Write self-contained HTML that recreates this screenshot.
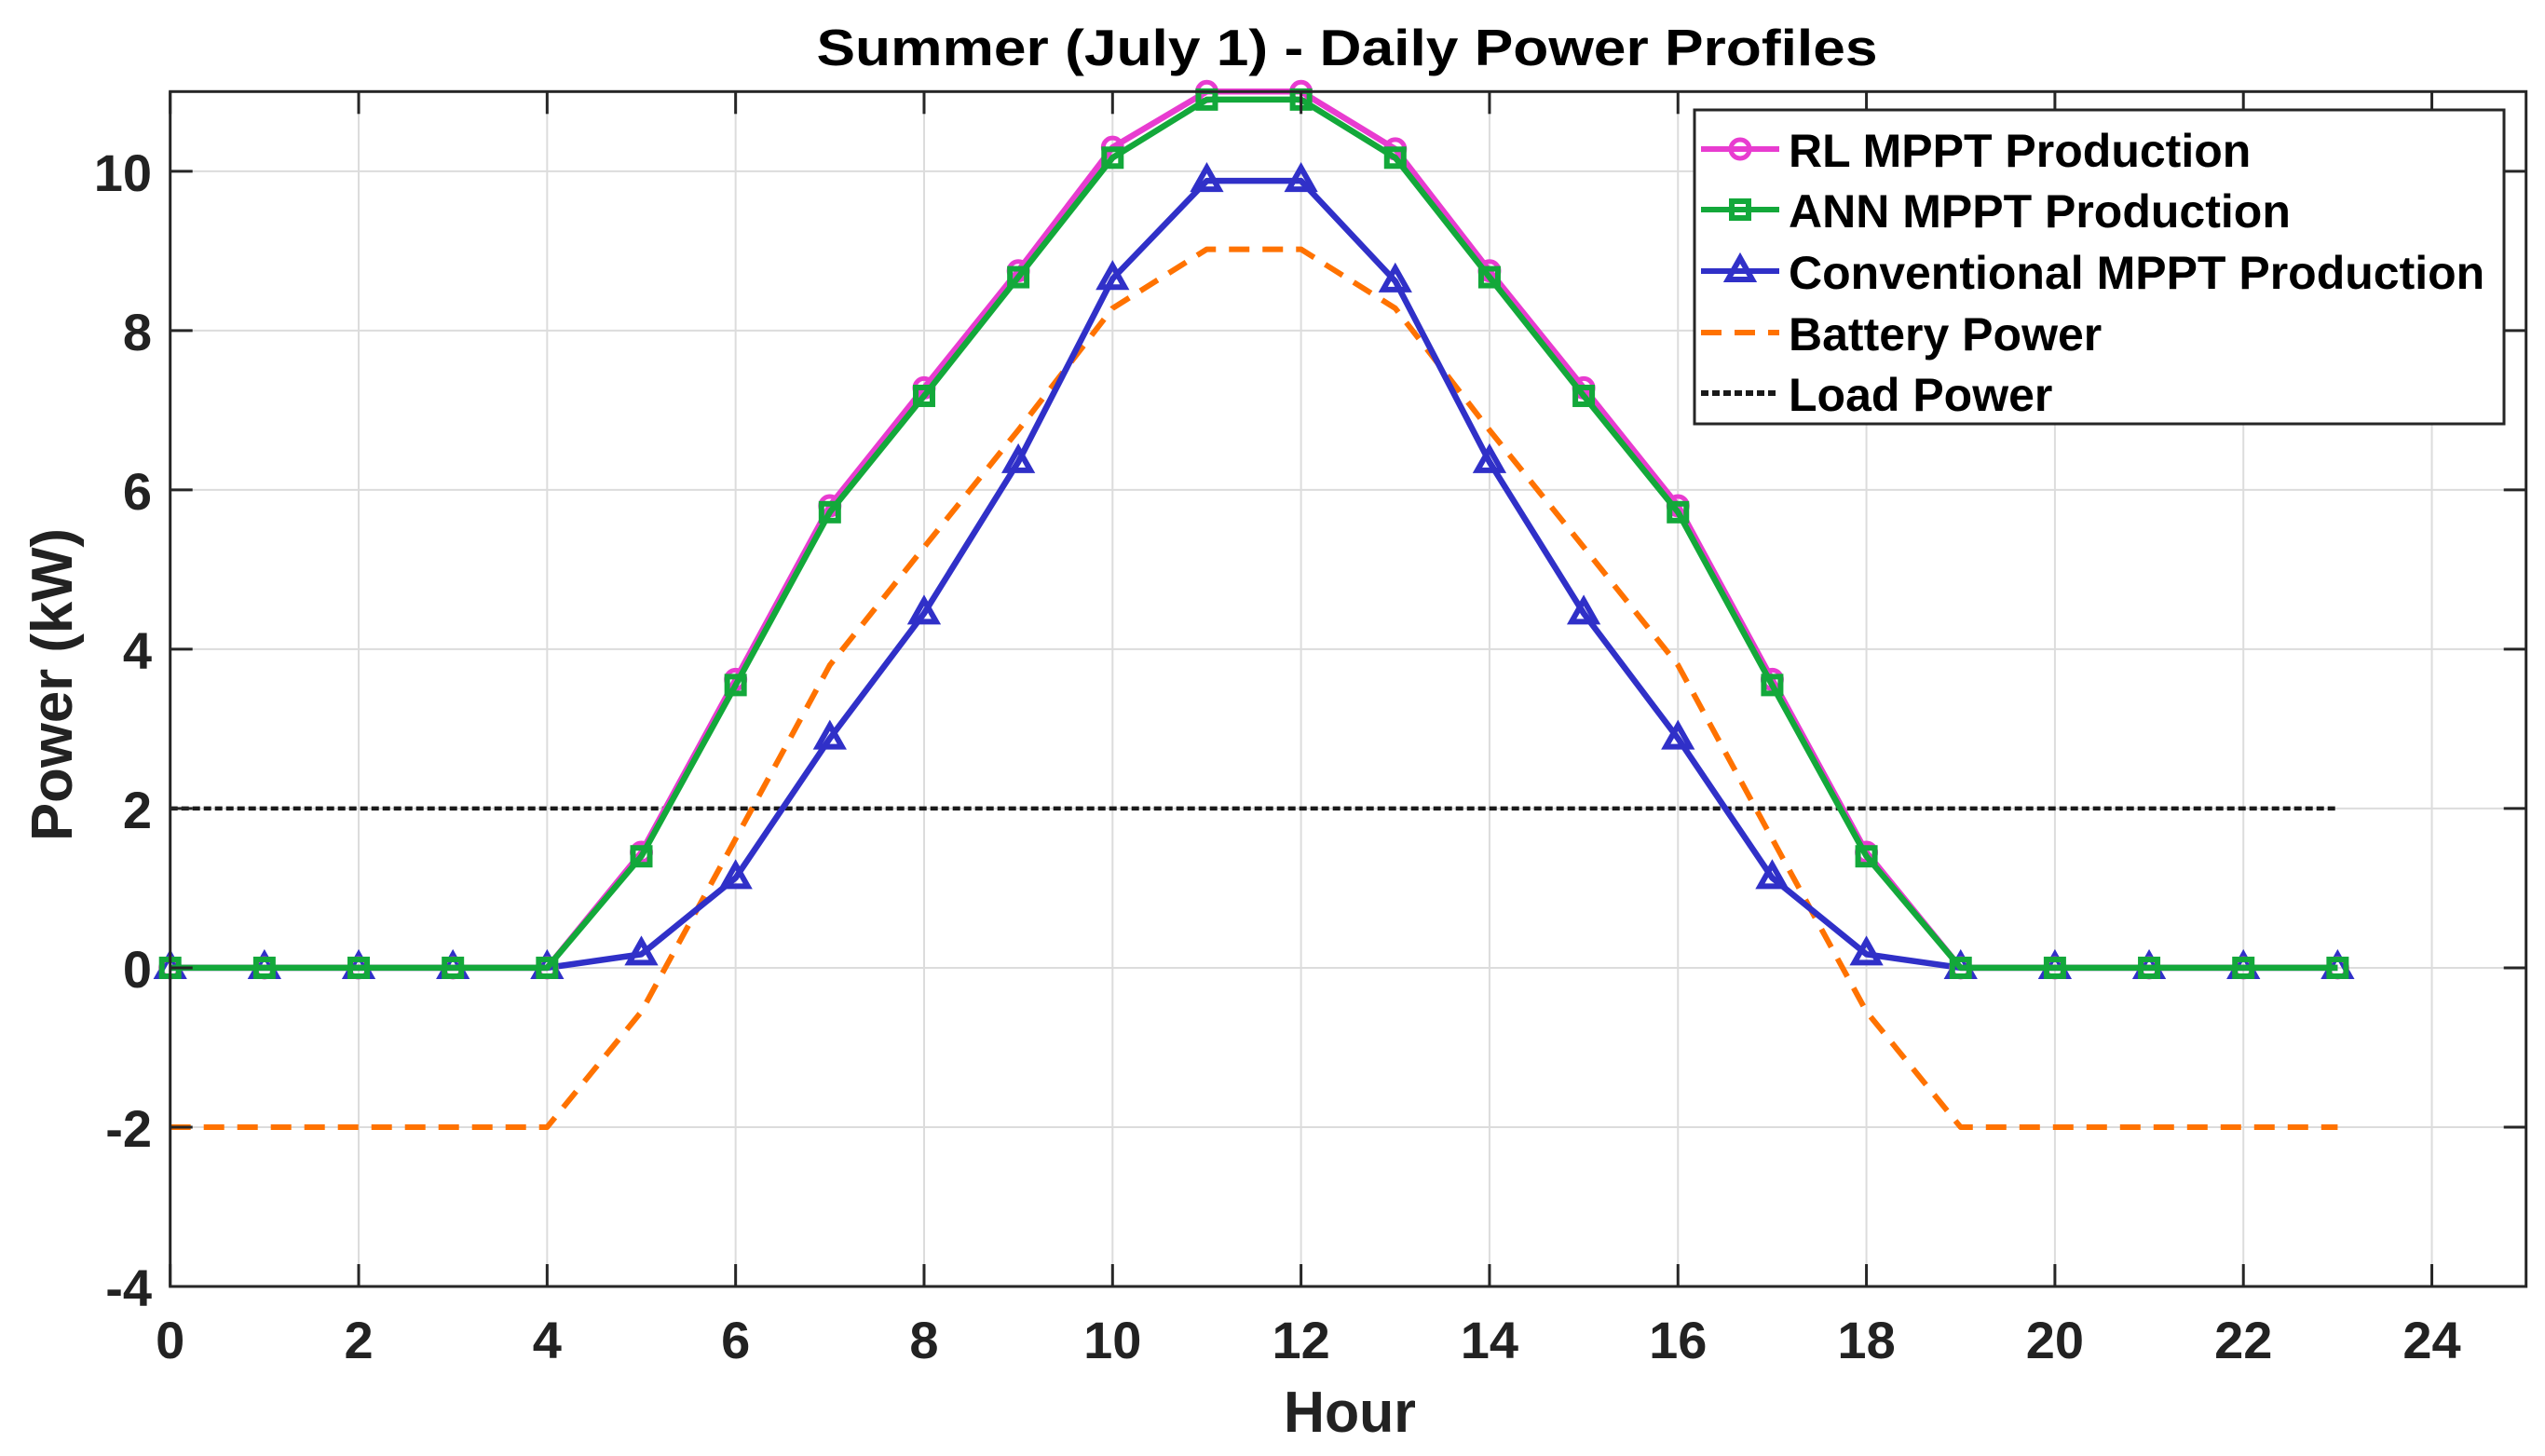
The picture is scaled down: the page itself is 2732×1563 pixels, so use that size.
<!DOCTYPE html>
<html><head><meta charset="utf-8"><style>html,body{margin:0;padding:0;background:#fff;}svg{display:block;}</style></head>
<body>
<svg id="chart" width="2732" height="1563" viewBox="0 0 2732 1563" xmlns="http://www.w3.org/2000/svg" font-family="Liberation Sans, Arial, sans-serif" font-weight="bold">
<rect x="0" y="0" width="2732" height="1563" fill="#fff"/>
<g id="grid"></g>
<g id="series"></g>
<rect x="182.7" y="98.3" width="2529" height="1282.7" fill="none" stroke="#262626" stroke-width="3"/>
<g id="ticks"></g>
<text x="1446" y="70" font-size="55" text-anchor="middle" textLength="1139" lengthAdjust="spacingAndGlyphs" fill="#000">Summer (July 1) - Daily Power Profiles</text>
<text x="1449" y="1537" font-size="62" text-anchor="middle" textLength="142" lengthAdjust="spacingAndGlyphs" fill="#222">Hour</text>
<text transform="translate(77,735) rotate(-90)" font-size="62" text-anchor="middle" textLength="336" lengthAdjust="spacingAndGlyphs" fill="#222">Power (kW)</text>
<g id="legend"></g>
</svg>
<script>
const hours = [0,1,2,3,4,5,6,7,8,9,10,11,12,13,14,15,16,17,18,19,20,21,22,23];
const rlValues = [0,0,0,0,0,1.45,3.62,5.8,7.28,8.75,10.3,11.0,11.0,10.28,8.75,7.28,5.8,3.62,1.45,0,0,0,0,0];
const annValues = [0,0,0,0,0,1.4,3.55,5.72,7.18,8.67,10.17,10.9,10.9,10.17,8.67,7.18,5.72,3.55,1.4,0,0,0,0,0];
const convValues = [0,0,0,0,0,0.17,1.13,2.88,4.45,6.35,8.65,9.88,9.88,8.62,6.35,4.45,2.88,1.13,0.17,0,0,0,0,0];
const batteryValues = [-2,-2,-2,-2,-2,-0.55,1.62,3.8,5.28,6.75,8.28,9.02,9.02,8.28,6.75,5.28,3.8,1.62,-0.55,-2,-2,-2,-2,-2];
const loadValues = [2,2,2,2,2,2,2,2,2,2,2,2,2,2,2,2,2,2,2,2,2,2,2,2];
const xTicks = [0,2,4,6,8,10,12,14,16,18,20,22,24];
const yTicks = [-4,-2,0,2,4,6,8,10];
const legendLabels = ["RL MPPT Production","ANN MPPT Production","Conventional MPPT Production","Battery Power","Load Power"];

const NS = "http://www.w3.org/2000/svg";
const L = 182.7, R = 2711.7, T = 98.3, B = 1381;
const xMin = 0, xMax = 25, yMin = -4, yMax = 11;
function xs(v){ return L + (v - xMin) / (xMax - xMin) * (R - L); }
function ys(v){ return B - (v - yMin) / (yMax - yMin) * (B - T); }
function mk(tag, attrs, parent){ const e = document.createElementNS(NS, tag); for (const k in attrs) e.setAttribute(k, attrs[k]); parent.appendChild(e); return e; }

const grid = document.getElementById('grid');
const ticks = document.getElementById('ticks');
xTicks.forEach(t => {
  const x = xs(t);
  const g = mk('line', {x1:x, x2:x, y1:T, y2:B, stroke:'#dcdcdc', 'stroke-width':2}, grid);
  
  
  const a = mk('line', {x1:x, x2:x, y1:B, y2:B-24, stroke:'#262626', 'stroke-width':3}, ticks);
  
  
  const b = mk('line', {x1:x, x2:x, y1:T, y2:T+24, stroke:'#262626', 'stroke-width':3}, ticks);
  
  
  const tx = mk('text', {x:x, y:1458, 'font-size':56, 'text-anchor':'middle', fill:'#222'}, ticks);
  tx.textContent = String(t);
  
  
});
yTicks.forEach(t => {
  const y = ys(t);
  const g = mk('line', {x1:L, x2:R, y1:y, y2:y, stroke:'#dcdcdc', 'stroke-width':2}, grid);
  
  
  const a = mk('line', {x1:L, x2:L+24, y1:y, y2:y, stroke:'#262626', 'stroke-width':3}, ticks);
  
  
  const b = mk('line', {x1:R, x2:R-24, y1:y, y2:y, stroke:'#262626', 'stroke-width':3}, ticks);
  
  
  const tx = mk('text', {x:163, y:y+21, 'font-size':56, 'text-anchor':'end', fill:'#222'}, ticks);
  tx.textContent = String(t);
  
  
});

const series = document.getElementById('series');
function pts(vals){ return vals.map((v,i) => xs(hours[i]).toFixed(1) + ',' + ys(v).toFixed(1)).join(' '); }
function marker(kind, cx, cy, color, parent){
  let m;
  if (kind === 'circle') m = mk('circle', {cx:cx, cy:cy, r:10, fill:'none', stroke:color, 'stroke-width':5}, parent);
  else if (kind === 'square') m = mk('rect', {x:cx-9, y:cy-9, width:18, height:18, fill:'none', stroke:color, 'stroke-width':6}, parent);
  else m = mk('polygon', {points:`${cx},${cy-14} ${cx-13},${cy+9} ${cx+13},${cy+9}`, fill:'none', stroke:color, 'stroke-width':6, 'stroke-linejoin':'miter'}, parent);
  return m;
}
const defs = [
  {vals:loadValues, color:'#1a1a1a', dash:'8 4', width:4.5, marker:null, name:'load-power-line'},
  {vals:batteryValues, color:'#ff7200', dash:'22 14', width:6, marker:null, name:'battery-power-line'},
  {vals:convValues, color:'#3030c8', dash:null, width:6.5, marker:'triangle', name:'conventional-mppt-line'},
  {vals:rlValues, color:'#e83cd0', dash:null, width:6.5, marker:'circle', name:'rl-mppt-line'},
  {vals:annValues, color:'#13a83a', dash:null, width:6.5, marker:'square', name:'ann-mppt-line'}
];
defs.forEach(d => {
  const g = mk('g', {}, series);
  
  
  const attrs = {points:pts(d.vals), fill:'none', stroke:d.color, 'stroke-width':d.width, 'stroke-linejoin':'round'};
  if (d.dash) attrs['stroke-dasharray'] = d.dash;
  const p = mk('polyline', attrs, g);
  
  
  if (d.marker) d.vals.forEach((v,i) => {
    const m = marker(d.marker, xs(hours[i]), ys(v), d.color, g);
    
    
  });
});

const legend = document.getElementById('legend');
const lb = mk('rect', {x:1819, y:118, width:869, height:337, fill:'#fff', stroke:'#262626', 'stroke-width':3}, legend);


const legendStyles = [
  {color:'#e83cd0', dash:null, marker:'circle'},
  {color:'#13a83a', dash:null, marker:'square'},
  {color:'#3030c8', dash:null, marker:'triangle'},
  {color:'#ff7200', dash:'22 14', marker:null},
  {color:'#1a1a1a', dash:'8 4', marker:null}
];
const legendY = [160, 225, 291, 357, 422];
legendLabels.forEach((lab, i) => {
  const s = legendStyles[i];
  const y = legendY[i];
  const g = mk('g', {}, legend);
  
  
  const a = {x1:1826, x2:1910, y1:y, y2:y, stroke:s.color, 'stroke-width':6};
  if (s.dash) a['stroke-dasharray'] = s.dash;
  const ln = mk('line', a, g);
  
  
  if (s.marker) {
    const m = marker(s.marker, 1868, y, s.color, g);
    
    
  }
  const t = mk('text', {x:1920, y:y+19, 'font-size':50, fill:'#000'}, g);
  t.textContent = lab;
  
  
});
</script>
</body></html>
